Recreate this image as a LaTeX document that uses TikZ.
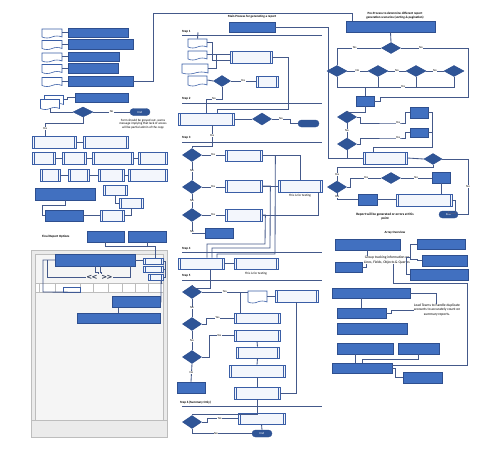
\documentclass[tikz,border=0pt]{standalone}
\usepackage{fontspec}
\setmainfont{Carlito}
\newfontfamily\chevfont{DejaVu Sans}
\usetikzlibrary{shapes.geometric,shapes.symbols,calc}
\definecolor{bfill}{HTML}{4170C0}
\definecolor{bdraw}{HTML}{2E4F8F}
\definecolor{dfill}{HTML}{2F5597}
\definecolor{linec}{HTML}{44598A}
\definecolor{pfill}{HTML}{F3F6FC}
\definecolor{pdraw}{HTML}{3A5EA6}
\definecolor{wgrey}{HTML}{EBEBEB}
\definecolor{wgrey2}{HTML}{F5F5F5}
\definecolor{wline}{HTML}{BDBDBD}
\definecolor{chevc}{HTML}{1F2D4A}
\begin{document}
\begin{tikzpicture}[x=1pt,y=-1pt,
  every node/.style={font=\fontsize{3}{3.6}\selectfont},
  bluebox/.style 2 args={draw=bdraw, fill=bfill, line width=0.5pt, inner sep=0pt, minimum width=#1pt, minimum height=#2pt},
  procbox/.style 2 args={draw=pdraw, fill=pfill, line width=0.7pt, inner sep=0pt, minimum width=#1pt, minimum height=#2pt,
    path picture={\draw[pdraw,line width=0.45pt] ([xshift=1.8pt]path picture bounding box.north west) -- ([xshift=1.8pt]path picture bounding box.south west) ([xshift=-1.8pt]path picture bounding box.north east) -- ([xshift=-1.8pt]path picture bounding box.south east);}},
  docnode/.style 2 args={tape, tape bend top=none, tape bend height=2pt, draw=pdraw, fill=white, line width=0.6pt, inner sep=0pt, minimum width=#1pt, minimum height=#2pt},
  decision/.style 2 args={diamond, draw=bdraw, fill=dfill, line width=0.5pt, inner sep=0pt, minimum width=#1pt, minimum height=#2pt},
  term/.style 2 args={rectangle, rounded corners=3.5pt, draw=bdraw, fill=dfill, text=white, inner sep=0pt, minimum width=#1pt, minimum height=#2pt},
  conn/.style={draw=linec, line width=0.85pt},
  stepline/.style={draw=linec, line width=0.9pt},
  steplab/.style={anchor=west, font=\fontsize{3.2}{3.8}\selectfont\bfseries, inner sep=0pt},
  lab/.style={fill=white, inner sep=0.4pt},
  chev/.style={inner sep=0.3pt, text=chevc, font=\chevfont\bfseries\fontsize{7}{7}\selectfont},
  note/.style={align=center, inner sep=0pt, font=\fontsize{3.2}{3.8}\selectfont}]
\useasboundingbox (0,0) rectangle (497,448);
\fill[white] (0,0) rectangle (497,448);

% ================= LEFT COLUMN =================
\node[bluebox={60}{9}] (B1) at (98,32.5) {};
\node[bluebox={65}{10}] (B2) at (100.5,44) {};
\node[bluebox={51}{9}] (B3) at (93.5,56.5) {};
\node[bluebox={50}{10}] (B4) at (93,68) {};
\node[bluebox={65}{10}] (B5) at (100.5,81) {};
\node[docnode={20}{9}] (L1) at (52,32.5) {};
\node[docnode={20}{9}] (L2) at (52,44) {};
\node[docnode={20}{9}] (L3) at (52,56.5) {};
\node[docnode={20}{9}] (L4) at (52,68) {};
\node[docnode={20}{9}] (L5) at (52,81) {};
\foreach \i in {1,...,5} {\draw[conn] (L\i.east) -- (B\i.west);}

\node[bluebox={53}{9}] (B6) at (101.5,97.5) {};
\node[docnode={19}{10}] (M2) at (54,99.5) {};
\node[docnode={19}{10}] (M) at (50,103.5) {};
\draw[conn] (M2.east) -- ++(4,0) |- (B6.west);
\node[decision={20}{10}] (D0) at (83,112) {};
\node[term={20}{7}] (T0) at (140,112) {End};
\draw[conn] (M.south) |- (D0.west);
\draw[conn] (D0.east) -- node[lab] (n0) {No} (T0.west);
\node[note] (TX0) at (143,124) {Form should be greyed out, warns\\message implying that lack of access\\will be partial admin of the copy};

\node[procbox={44}{12}] (P1) at (54,142) {};
\node[procbox={45}{12}] (P2) at (105.5,142) {};
\draw[conn] (D0.south) -- ++(0,6) -| node[lab, pos=0.7] (y0) {Yes} ([xshift=-9pt]P1.north);
\draw[conn] (P1.east) -- (P2.west);

\node[procbox={23}{12}] (R1) at (43.5,158) {};
\node[procbox={24}{12}] (R2) at (74,158) {};
\node[procbox={41}{12}] (R3) at (112.5,158) {};
\node[procbox={29}{12}] (R4) at (152.5,158) {};
\draw[conn] (R1.east) -- (R2.west) (R2.east) -- (R3.west) (R3.east) -- (R4.west);
\node[procbox={20}{12}] (S1) at (50,175) {};
\node[procbox={21}{12}] (S2) at (78.5,175) {};
\node[procbox={26}{12}] (S3) at (111,175) {};
\node[procbox={39}{12}] (S4) at (147.5,175) {};
\draw[conn] (S1.east) -- (S2.west) (S2.east) -- (S3.west) (S3.east) -- (S4.west);

\node[bluebox={60}{12}] (B7) at (65,194) {};
\node[bluebox={38}{11}] (B8) at (64,215.5) {};
\node[procbox={24}{10}] (Q1) at (115,190) {};
\node[procbox={24}{10}] (Q2) at (131,203) {};
\node[procbox={24}{11}] (Q3) at (112,215.5) {};
\draw[conn] (B7.south) -- ++(0,5) -| ([xshift=-2pt]B8.west) -- (B8.west);
\draw[conn] (B8.east) -- (Q3.west);
\draw[conn] (Q1.south) |- (Q2.west);
\draw[conn] (Q2.south) |- (Q3.east);

% ----- Final report options window -----
\node[anchor=west, inner sep=0pt, font=\fontsize{3.2}{3.8}\selectfont\bfseries] (FR) at (42,237) {Final Report Options};
\node[bluebox={37}{11}] (F1) at (105.5,236.5) {};
\node[bluebox={38}{11}] (F2) at (147,236.5) {};
\node[draw=wline, fill=wgrey, line width=0.7pt, minimum width=136pt, minimum height=187pt, inner sep=0pt] (WIN) at (99,343.5) {};
\node[draw=wline, fill=wgrey2, line width=0.5pt, minimum width=128pt, minimum height=166pt, inner sep=0pt] (PAN) at (99,337) {};
\node[draw=wline, fill=white, line width=0.4pt, minimum width=128pt, minimum height=9pt, inner sep=0pt] (TAB) at (99,287.5) {};
\foreach \x in {39,55,80,93,108,122,135,148} {\draw[wline, line width=0.4pt] (\x,283) -- (\x,292);}
\node[draw=pdraw, fill=white, line width=0.5pt, minimum width=17pt, minimum height=5pt, inner sep=0pt] (TC) at (71.5,289.5) {};
\node[bluebox={80}{12}] (W1) at (95,260) {};
\node[procbox={20}{6}] (K1) at (153,261) {};
\node[procbox={20}{5.5}] (K2) at (153,269.5) {};
\node[procbox={15}{6}] (K3) at (155.5,277.5) {};
\draw[conn] (F2.south) -- ++(0,4) -| ([xshift=2pt]K1.north);
\draw[conn] (F1.south) |- ($(F2.south)+(0,4)$);
\draw[conn] (W1.east) -- (W1.east -| K1.west);
\draw[conn] (K1.east) -- ++(2,0) |- (K3.east);
\draw[conn] (K2.east) -- ++(2,0);
\node[chev] (LA) at (92,277) {<\kern-0.6pt<};
\node[chev] (RA) at (107,277) {>\kern-0.6pt>};
\draw[conn] (W1.west) -| (43,292) -- (TC.south east);
\draw[conn] ([xshift=-7pt]W1.west) |- (LA.west);
\draw[conn] (W1.south) -- ++(0,6) -| (LA.north east);
\draw[conn] ([xshift=5pt]W1.south) -- ++(0,6) -| (RA.north west);
\draw[conn] (RA.east) -| ([xshift=-5pt]W1.south east);
\node[bluebox={48}{11}] (W2) at (136,302) {};
\node[bluebox={83}{10}] (W3) at (118.5,318) {};
\draw[conn] (K3.south) ++(6,0) -- ++(0,3) -- (161,280.5) -- (161,302) -- (W2.east);
\draw[conn] (W3.north |- W2.south) -- (W3.north);
\draw[wline, line width=0.5pt] (31,420) -- (167,420);

% ================= MAIN COLUMN =================
\node[inner sep=0pt, font=\fontsize{3.2}{3.8}\selectfont\bfseries] (MT) at (252,17) {Main Process for generating a report};
\node[bluebox={46}{10}] (MB) at (252,27) {};
\node[steplab] (ST1) at (182,32) {Step 1};
\draw[stepline] (182,35) -- (322,35);
\node[docnode={19}{9}] (E1) at (197.5,42.5) {};
\node[docnode={19}{9}] (E2) at (197.5,54.5) {};
\node[docnode={26}{10}] (E3) at (195,68) {};
\node[docnode={19}{10}] (E4) at (197.5,80) {};
\node[procbox={42}{12}] (PA) at (251,57) {};
\draw[conn] (E1.east) -- ++(5,0) |- ([yshift=-3pt]PA.west);
\draw[conn] (E2.east) -- (E2.east -| PA.west);
\draw[conn] (E3.east) -- ++(8,0) |- ([yshift=3pt]PA.west);
\draw[conn] ([xshift=-54pt]MB.south) -- (E1.north);
\node[decision={17}{11}] (DA) at (222,81) {};
\node[procbox={22}{11}] (PB) at (267,81.5) {};
\draw[conn] (E4.east) -- (DA.west);
\draw[conn] (DA.east) -- node[lab] (yA) {Yes} (DA.east -| PB.west);
\node[steplab] (ST2) at (182,99) {Step 2};
\draw[stepline] (182,103) -- (322,103);
\node[procbox={56}{12}] (SB) at (206,119) {};
\draw[conn] (DA.south) -- (222,99) -- node[lab] (nA) {No} (206,99) -- (SB.north);
\draw[conn] (PA.east) -- (288,57) -- (288,109) -| ([xshift=11pt]SB.north);
\node[decision={19}{12}] (DB) at (262,119) {};
\node[term={21}{7}] (TB) at (308.5,123.5) {};
\draw[conn] (SB.east) -- (DB.west);
\draw[conn] (DB.east) -- node[lab] (nB) {No} (290,119) |- (TB.west);
\node[steplab] (ST3) at (182,138) {Step 3};
\draw[stepline] (182,142) -- (322,142);
\node[decision={19}{13}] (D31) at (192,155) {};
\node[decision={19}{13}] (D32) at (192,187) {};
\node[decision={19}{13}] (D33) at (192,215) {};
\draw[conn] ([xshift=6pt]SB.south) -- node[lab] (yB) {Yes} (212,146) -| (D31.north);
\node[procbox={37}{11}] (P31) at (243.5,155.5) {};
\node[procbox={37}{12}] (P32) at (243.5,186) {};
\node[procbox={37}{12}] (P33) at (243.5,215) {};
\draw[conn] (D31.east) -- node[lab] (y31) {Yes} (D31.east -| P31.west);
\draw[conn] (D32.east) -- node[lab] (y32) {Yes} (D32.east -| P32.west);
\draw[conn] (D33.east) -- node[lab] (y33) {Yes} (D33.east -| P33.west);
\draw[conn] (D31.south) -- node[lab] (n31) {No} (D32.north);
\draw[conn] (D32.south) -- node[lab] (n32) {No} (D33.north);
\node[bluebox={28}{10}] (B9) at (219,233) {};
\draw[conn] (D33.south) |- node[lab, pos=0.45] (n33) {No} (B9.west);
\node[procbox={44}{12}] (PT) at (300,186) {};
\node[note] (TT1) at (300,196) {This is for testing};
\draw[conn] (P31.east) -| (PT.north);
\draw[conn] (P32.east) -- (P32.east -| PT.west);
\draw[conn] (P33.east) -| ([xshift=18pt]PT.south);
\node[steplab] (ST4) at (182,249) {Step 4};
\draw[stepline] (182,252) -- (322,252);
\node[procbox={46}{11}] (S4a) at (201,263.5) {};
\node[procbox={44}{11}] (S4b) at (256,263.5) {};
\node[note] (TT2) at (256,274) {This is for testing};
\draw[conn] (P31.east) -- ++(13,0) -- (275,254) -| ([xshift=16pt]S4a.north);
\draw[conn] (P32.east) -- ++(8,0) -- (270,248) -| ([xshift=11pt]S4a.north);
\draw[conn] (P33.east) -- ++(3,0) -- (265,244) -| ([xshift=6pt]S4a.north);
\draw[conn] (S4a.east) -- (S4b.west);
\node[steplab] (ST5) at (182,276) {Step 5};
\draw[stepline] (182,280) -- (322,280);
\node[decision={19}{13}] (D51) at (192,292) {};
\node[decision={19}{13}] (D52) at (192,324) {};
\node[decision={19}{13}] (D53) at (192,357) {};
\draw[conn] ([xshift=9pt]S4a.south) |- ([yshift=-3pt]D51.north) -- (D51.north);
\node[docnode={19}{12}] (G1) at (257.5,296) {};
\node[procbox={43}{12}] (G2) at (296.5,296) {};
\node[procbox={46}{10}] (P52) at (257,318) {};
\node[procbox={46}{11}] (P53) at (257,335.5) {};
\node[procbox={43}{11}] (P54) at (257.5,352.5) {};
\node[procbox={56}{12}] (P55) at (257,371) {};
\node[procbox={46}{12}] (P56) at (257,393) {};
\draw[conn] (D51.east) -- node[lab] (y51) {Yes} (D51.east -| G1.west);
\draw[conn] (G1.east) -- (G1.east -| G2.west);
\draw[conn] (240,292) -- (240,313);
\draw[conn] (D52.east) -- ++(5,0) |- node[lab, pos=0.7] (y52) {Yes} (P52.west);
\draw[conn] (D53.east) -- ++(8,0) |- node[lab, pos=0.7] (y53) {Yes} (P53.west);
\draw[conn] (D51.south) -- node[lab] (n51) {No} (D52.north);
\draw[conn] (D52.south) -- node[lab] (n52) {No} (D53.north);
\node[bluebox={28}{11}] (B10) at (191,387.5) {};
\draw[conn] (D53.south) -- node[lab] (n53) {No} (B10.north);
\draw[conn] (P53.south) -- (P54.north);
\draw[conn] (P54.south) -- (P55.north);
\draw[conn] (P55.south) -- (P56.north);
\draw[conn] (G2.south) |- (P56.east);
\node[steplab] (ST6) at (180,403) {Step 6 (Summary Only)};
\draw[stepline] (182,406) -- (322,406);
\node[decision={19}{13}] (D61) at (192,422) {};
\node[procbox={47}{11}] (P61) at (261.5,418.5) {};
\node[term={20}{7}] (T61) at (262,433.5) {End};
\draw[conn] (P56.south) -- ++(0,15) -| (D61.north);
\draw[conn] (D61.east) -- ++(6,0) |- node[lab, pos=0.7] (y61) {Yes} (P61.west);
\draw[conn] (D61.south) |- node[lab, pos=0.7] (n61) {No} (T61.west);
\draw[conn] (P61.south) -- (T61.north);

% ================= PRE-PROCESS COLUMN =================
\node[note, font=\fontsize{3.2}{3.8}\selectfont\bfseries] (PT1) at (395,15.5) {Pre-Process to determine different report\\generation scenarios (sorting \& pagination)};
\node[bluebox={89}{11}] (PreTop) at (390.5,26.5) {};
\draw[conn] (B5.east) -- (153,81) -- (153,13) -| ([xshift=7pt]PreTop.north west);
\draw[conn] (MB.east) -- (328,27) -- (328,158) coordinate (cc1);
\node[decision={19}{11}] (DP1) at (391,48) {};
\draw[conn] (PreTop.south) -- (DP1.north);
\node[decision={20}{11}] (DR1) at (337,71) {};
\node[decision={20}{11}] (DR2) at (378,71) {};
\node[decision={20}{11}] (DR3) at (416,71) {};
\node[decision={20}{11}] (DR4) at (454,71) {};
\draw[conn] (DP1.west) -| node[lab, pos=0.3] (yP) {Yes} (DR1.north);
\draw[conn] (DR1.east) -- node[lab] (nR1) {No} (DR2.west);
\draw[conn] (DR2.east) -- node[lab] (nR2) {No} (DR3.west);
\draw[conn] (DR3.east) -- node[lab] (nR3) {No} (DR4.west);
\draw[conn] (DR1.south) |- (DR4.south |- 0,87) -- (DR4.south);
\draw[conn] (DR2.south) -- (DR2.south |- 0,87);
\draw[conn] (DR3.south) -- (DR3.south |- 0,87);
\node[lab] (yR) at (403,87) {Yes};
\node[bluebox={18}{10}] (BX) at (365,101) {};
\draw[conn] (BX.north |- 0,87) -- (BX.north);
\draw[conn] (DP1.east) -- node[lab, pos=0.3] (nP) {No} (468,48) -- (468,97) -- (380,97) |- (BX.east);
\node[decision={19}{12}] (DQ1) at (347,117) {};
\node[decision={19}{12}] (DQ2) at (347,144) {};
\draw[conn] (BX.south) |- ([yshift=-2pt]DQ1.north) -- (DQ1.north);
\node[bluebox={18}{11}] (BY1) at (419,112.5) {};
\node[bluebox={18}{9}] (BY2) at (419,132.5) {};
\draw[conn] (DQ1.east) -- ++(4,0) |- (398,123) node[lab, pos=1] (yQ1) {Yes} -- (405,123) |- (BY1.west);
\draw[conn] (DQ1.south) -- node[lab] (nQ1) {No} (DQ2.north);
\draw[conn] (DQ2.east) -- ++(4,0) |- (398,138) node[lab, pos=1] (yQ2) {Yes} -- (405,138) |- (BY2.west);
\node[procbox={44}{12}] (PP) at (385,158) {};
\draw[conn] (BY1.east) -- (432,112.5) -- (432,147) -| ([xshift=-12pt]PP.north);
\draw[conn] (BY2.east) -- (BY2.east -| 432,0);
\draw[conn] (cc1) -- (PP.west);
\draw[conn] (DQ2.south) -- (DQ2.south |- PP.west);
\node[decision={18}{11}] (DZ) at (433,159) {};
\draw[conn] (PP.east) -- (DZ.west);
\node[term={19}{7}] (TE) at (448.5,214.5) {End};
\draw[conn] (DZ.east) -- (468,159) -- node[lab] (nZ) {No} (468,214.5) -- (TE.east);
\node[decision={19}{12}] (DS1) at (337,187) {};
\draw[conn] (DZ.south) -- ++(0,3) -| node[lab, pos=0.75] (yZ) {Yes} (DS1.north);
\node[decision={19}{11}] (DS2) at (391,178) {};
\node[bluebox={18}{11}] (BZ1) at (441,177.5) {};
\draw[conn] (DS1.east) -- ++(4,0) |- (DS2.west) node[lab, pos=0.75] (yS1) {Yes};
\draw[conn] (DS2.east) -- node[lab] (nS2) {No} (DS2.east -| BZ1.west);
\node[bluebox={19}{11}] (BZ2) at (367.5,199.5) {};
\draw[conn] (DS1.south) |- node[lab, pos=0.3] (yS2) {Yes} (BZ2.west);
\node[procbox={56}{12}] (PF) at (424,200) {};
\draw[conn] (BZ2.east) -- (BZ2.east -| PF.west);
\draw[conn] (BZ1.south) -- (BZ1.south |- PF.north);
\draw[conn] (PF.east) -- ++(3,0) |- ([yshift=-3pt]TE.north) -- (TE.north);
\node[note, font=\fontsize{3.4}{4}\selectfont\bfseries] (RW) at (385,216.5) {Report will be generated or errors at this\\point};

% ================= ARRAY OVERVIEW =================
\node[inner sep=0pt, font=\fontsize{3.2}{3.8}\selectfont\bfseries] (AO) at (395,233) {Array Overview};
\node[bluebox={65}{11}] (A1) at (367.5,244.5) {};
\node[bluebox={48}{10}] (A2) at (441,244) {};
\node[bluebox={45}{11}] (A3) at (444.5,260.5) {};
\node[bluebox={58}{11}] (A4) at (439,274.5) {};
\node[bluebox={27}{10}] (A5) at (348.5,267) {};
\node[note, font=\fontsize{3.6}{4.3}\selectfont] (GT) at (387,260) {Group tracking information on\\Lines, Fields, Objects \& Queries};
\draw[conn] (A1.south) -- (A1.south |- GT.north);
\draw[conn] (A2.west) -- ++(-6,0) |- ([yshift=1pt]GT.east);
\draw[conn] (A3.west) -- ++(-4,0) |- ([yshift=1pt]GT.east);
\draw[conn] (A4.west) -- ++(-3,0) |- ([yshift=2.5pt]GT.east);
\draw[conn] (A5.east) -| ([xshift=3pt]GT.south west);
\node[bluebox={78}{10}] (A6) at (371,293) {};
\node[note, font=\fontsize{3.6}{4.3}\selectfont] (LT) at (437,310) {Lead Teams to handle duplicate\\accounts to accurately count on\\summary reports.};
\node[bluebox={49}{10}] (A8) at (361.5,313) {};
\node[bluebox={70}{11}] (A9) at (372,328.5) {};
\node[bluebox={56}{11}] (A10) at (365,348.5) {};
\node[bluebox={41}{11}] (A11) at (418.5,348.5) {};
\node[bluebox={60}{10}] (A7) at (362,368) {};
\node[bluebox={39}{11}] (A12) at (422.5,377.5) {};
\draw[conn] (A6.east) -- (436,293) -- (LT.north -| 436,0);
\draw[conn] (A6.south -| A8.north) -- (A8.north);
\draw[conn] (A8.east) -- ++(5,0) |- (LT.west);
\draw[conn] ([xshift=6pt]GT.south) -- (393,283) -- (467,283) -- (467,365) -- (A7.east |- 0,365);
\draw[conn] ([xshift=-10pt]A10.south) -- ([xshift=-7pt]A7.north);
\draw[conn] (A11.south) |- (362,359) -- (A7.north);
\draw[conn] (A7.east) -- ++(3,0) |- (A12.west);
\end{tikzpicture}
\end{document}
